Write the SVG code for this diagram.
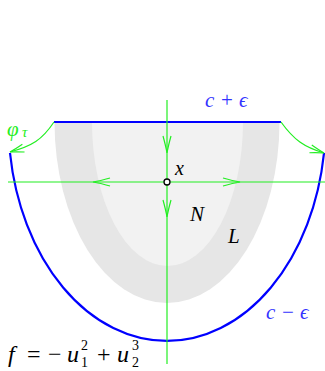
<svg xmlns="http://www.w3.org/2000/svg" xmlns:xlink="http://www.w3.org/1999/xlink" width="325" height="371" viewBox="0 0 325 371">
<style>
.math{font-family:"Liberation Serif","DejaVu Serif",serif;font-style:italic;}
.up{font-style:normal;}
.blue{fill:#3333ff;}
.green{fill:#22ee22;}
.flow{stroke:#22ee22;stroke-width:1.2;fill:none;}
.level{stroke:#0000ff;stroke-width:2.2;fill:none;}
</style>
<defs>
<path id="ah" d="M-17,-4 Q-7,-1.2 0,0 Q-7,1.2 -17,4" stroke="#22ee22" stroke-width="1.2" fill="none"/>
<path id="ahs" d="M-14,-4 Q-5,-1 0,0 Q-5,1 -14,4" stroke="#22ee22" stroke-width="1.2" fill="none"/>
</defs>
<rect width="325" height="371" fill="#ffffff"/>
<g id="region-L">
<path d="M54.5,122 A112.5,181 0 0 0 279.5,122 Z" fill="#e6e6e6"/>
</g>
<g id="region-N">
<path d="M92,122 A75.5,144 0 0 0 243,122 Z" fill="#f2f2f2"/>
</g>
<g id="level-top">
<line x1="54" y1="122" x2="281" y2="122" class="level"/>
</g>
<g id="level-bottom">
<path d="M10,153 A158.6,219 0 0 0 324,153" class="level"/>
</g>
<g id="connectors">
<line x1="8" y1="182" x2="325" y2="182" class="flow"/>
<line x1="167" y1="100" x2="167" y2="364" class="flow"/>
<path d="M54,122 C42,140 32,146 10,152" class="flow"/>
<path d="M281,122 C294,140 304,147 324,153" class="flow"/>
<use xlink:href="#ah" transform="translate(93,182) rotate(180)"/>
<use xlink:href="#ah" transform="translate(240,182)"/>
<use xlink:href="#ah" transform="translate(167,153) rotate(90)"/>
<use xlink:href="#ah" transform="translate(167,217) rotate(90)"/>
<use xlink:href="#ahs" transform="translate(10,152) rotate(164)"/>
<use xlink:href="#ahs" transform="translate(324,153) rotate(17)"/>
</g>
<g id="point-x">
<circle cx="167" cy="182" r="3" fill="#ffffff" stroke="#000000" stroke-width="1.3"/>
<text x="175" y="175" class="math" font-size="20">x</text>
</g>
<g id="labels">
<text y="107" class="math blue" font-size="21"><tspan x="205">c</tspan><tspan class="up" x="221">+</tspan><tspan x="239">ϵ</tspan></text>
<text y="319" class="math blue" font-size="21"><tspan x="266">c</tspan><tspan class="up" x="282">−</tspan><tspan x="300">ϵ</tspan></text>
<text x="190" y="221" class="math" font-size="21">N</text>
<text x="228" y="243" class="math" font-size="21">L</text>
<text y="136" class="math green" font-size="21"><tspan x="7">φ</tspan><tspan x="22" font-size="15" dy="1">τ</tspan></text>
<text y="362" class="math" font-size="24"><tspan x="8">f</tspan><tspan class="up" x="27">=</tspan><tspan class="up" x="48">−</tspan><tspan x="67">u</tspan><tspan class="up" x="81" font-size="14" dy="5">1</tspan><tspan class="up" x="81" font-size="14" dy="-17">2</tspan><tspan class="up" x="97" dy="12">+</tspan><tspan x="117">u</tspan><tspan class="up" x="132" font-size="14" dy="5">2</tspan><tspan class="up" x="132" font-size="14" dy="-17">3</tspan></text>
</g>
</svg>
